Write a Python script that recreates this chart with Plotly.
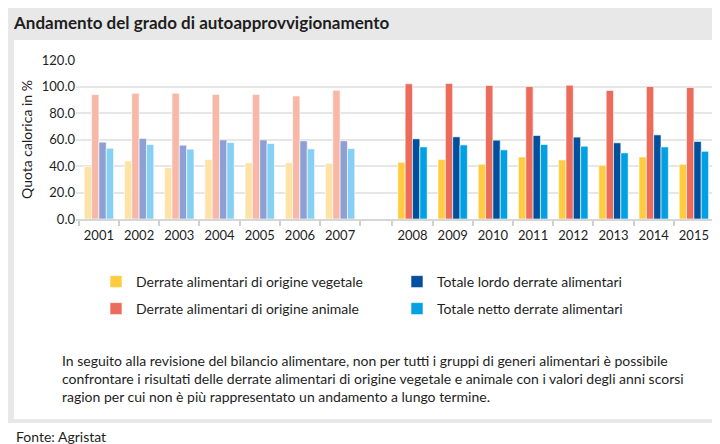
import plotly.graph_objects as go

# ---------------- data ----------------
years_a = ["2001", "2002", "2003", "2004", "2005", "2006", "2007"]
years_b = ["2008", "2009", "2010", "2011", "2012", "2013", "2014", "2015"]

vegetale_a = [39.7, 43.8, 38.7, 44.8, 42.5, 42.5, 42.0]
animale_a = [93.9, 94.9, 95.0, 94.0, 94.0, 92.9, 97.2]
lordo_a = [58.0, 60.8, 55.7, 59.7, 59.7, 59.0, 59.0]
netto_a = [53.4, 56.2, 52.7, 57.7, 57.0, 52.9, 53.2]

vegetale_b = [42.8, 45.0, 41.3, 46.8, 44.6, 40.5, 46.8, 41.3]
animale_b = [102.0, 102.3, 100.8, 100.0, 101.0, 97.0, 100.0, 99.2]
lordo_b = [60.5, 62.0, 59.5, 63.0, 61.8, 57.5, 63.5, 58.5]
netto_b = [54.4, 55.9, 52.2, 56.2, 54.9, 49.9, 54.4, 51.1]

series_names = [
    "Derrate alimentari di origine vegetale",
    "Derrate alimentari di origine animale",
    "Totale lordo derrate alimentari",
    "Totale netto derrate alimentari",
]
y_ticks = [0, 20, 40, 60, 80, 100, 120]

title_text = "Andamento del grado di autoapprovvigionamento"
y_title = "Quota calorica in %"
note_text = ("In seguito alla revisione del bilancio alimentare, non per tutti i gruppi di generi alimentari è possibile<br>"
             "confrontare i risultati delle derrate alimentari di origine vegetale e animale con i valori degli anni scorsi<br>"
             "ragion per cui non è più rappresentato un andamento a lungo termine.")
source_text = "Fonte: Agristat"

# ---------------- styling ----------------
FONT = "Lato, sans-serif"
TXT = "#1e1e1e"
GRAY_BG = "#e8e8e8"
GRID = "#e6e6e6"
colors_faded = ["#fde4a6", "#f8b8a7", "#8d9fd3", "#86d0f4"]
colors_bright = ["#ffcb3f", "#ec6b5a", "#00509e", "#00a0e2"]

GAP = 0.8  # extra space (in category widths) between the two periods
x_a = list(range(len(years_a)))
x_b = [len(years_a) + GAP + i for i in range(len(years_b))]
tick_centers = x_a + x_b
tick_labels = years_a + years_b
boundaries = [x - 0.5 for x in x_a] + [x_a[-1] + 0.5] + [x - 0.5 for x in x_b] + [x_b[-1] + 0.5]

W, H = 720, 444
ML, MR, MT, MB = 68, 14, 52, 233
PW, PH = W - ML - MR, H - MT - MB


def px_x(px):
    return (px - ML) / PW


def px_y(py):
    return (H - MB - py) / PH


fig = go.Figure()

vals_a = [vegetale_a, animale_a, lordo_a, netto_a]
vals_b = [vegetale_b, animale_b, lordo_b, netto_b]
legends = ["legend", "legend2", "legend", "legend2"]
ranks = [1, 1, 2, 2]

for i in range(4):
    fig.add_trace(go.Bar(
        x=x_a, y=vals_a[i], name=series_names[i], offsetgroup=str(i),
        marker=dict(color=colors_faded[i], line=dict(color="white", width=0.6)),
        showlegend=False, hoverinfo="skip",
    ))
for i in range(4):
    fig.add_trace(go.Bar(
        x=x_b, y=vals_b[i], name=series_names[i], offsetgroup=str(i),
        marker=dict(color=colors_bright[i], line=dict(color="white", width=0.6)),
        legend=legends[i], legendrank=ranks[i],
    ))

shapes = [
    # white panel
    dict(type="rect", xref="paper", yref="paper", layer="below",
         x0=px_x(6), x1=px_x(716), y0=px_y(411), y1=px_y(32),
         fillcolor="white", line=dict(width=0)),
    # white area below panel
    dict(type="rect", xref="paper", yref="paper", layer="below",
         x0=px_x(-5), x1=px_x(725), y0=px_y(450), y1=px_y(415),
         fillcolor="white", line=dict(width=0)),
    # right border of plot area
    dict(type="line", xref="paper", yref="paper", layer="below",
         x0=1, x1=1, y0=0, y1=1, line=dict(color=GRID, width=2)),
]

legend_common = dict(
    orientation="h", font=dict(family=FONT, size=14, color=TXT),
    bgcolor="rgba(0,0,0,0)", entrywidth=256, entrywidthmode="pixels",
    xanchor="left", yanchor="middle", itemclick=False, itemdoubleclick=False,
)

fig.update_layout(
    width=W, height=H,
    margin=dict(l=ML, r=MR, t=MT, b=MB, pad=0),
    paper_bgcolor=GRAY_BG, plot_bgcolor="rgba(0,0,0,0)",
    font=dict(family=FONT, size=13, color=TXT),
    barmode="group", bargap=0.27, bargroupgap=0,
    title=dict(text="<b>" + title_text + "</b>", x=6 / W, xref="container", xanchor="left",
               y=1 - 15 / H, yref="container", yanchor="middle",
               font=dict(family=FONT, size=17, color=TXT)),
    xaxis=dict(
        range=[-0.57, x_b[-1] + 0.5], tickmode="array", tickvals=tick_centers, ticktext=tick_labels,
        ticks="", showgrid=False, zeroline=False, showline=True, linecolor="#d6d6d6", linewidth=1.5,
        tickfont=dict(family=FONT, size=13, color=TXT), ticklabelstandoff=4,
        minor=dict(tickmode="array", tickvals=boundaries, ticks="outside", ticklen=5,
                   tickcolor="#d0d0d0", tickwidth=1.5, showgrid=False),
    ),
    yaxis=dict(
        range=[0, 120], tickmode="array", tickvals=y_ticks, tickformat=".1f",
        showgrid=True, gridcolor=GRID, gridwidth=2, zeroline=False, showline=False, ticks="",
        tickfont=dict(family=FONT, size=13, color=TXT),
        title=dict(text=y_title, font=dict(family=FONT, size=14, color=TXT), standoff=5),
    ),
    legend=dict(**legend_common, x=px_x(88), y=px_y(274)),
    legend2=dict(**legend_common, x=px_x(88), y=px_y(301)),
    shapes=shapes,
    annotations=[
        dict(text=note_text, xref="paper", yref="paper", x=px_x(52), y=px_y(342),
             xanchor="left", yanchor="top", align="left", showarrow=False,
             font=dict(family=FONT, size=14, color=TXT)),
        dict(text=source_text, xref="paper", yref="paper", x=px_x(6), y=px_y(428),
             xanchor="left", yanchor="middle", align="left", showarrow=False,
             font=dict(family=FONT, size=14, color=TXT)),
    ],
)

fig.write_html("out.html")
